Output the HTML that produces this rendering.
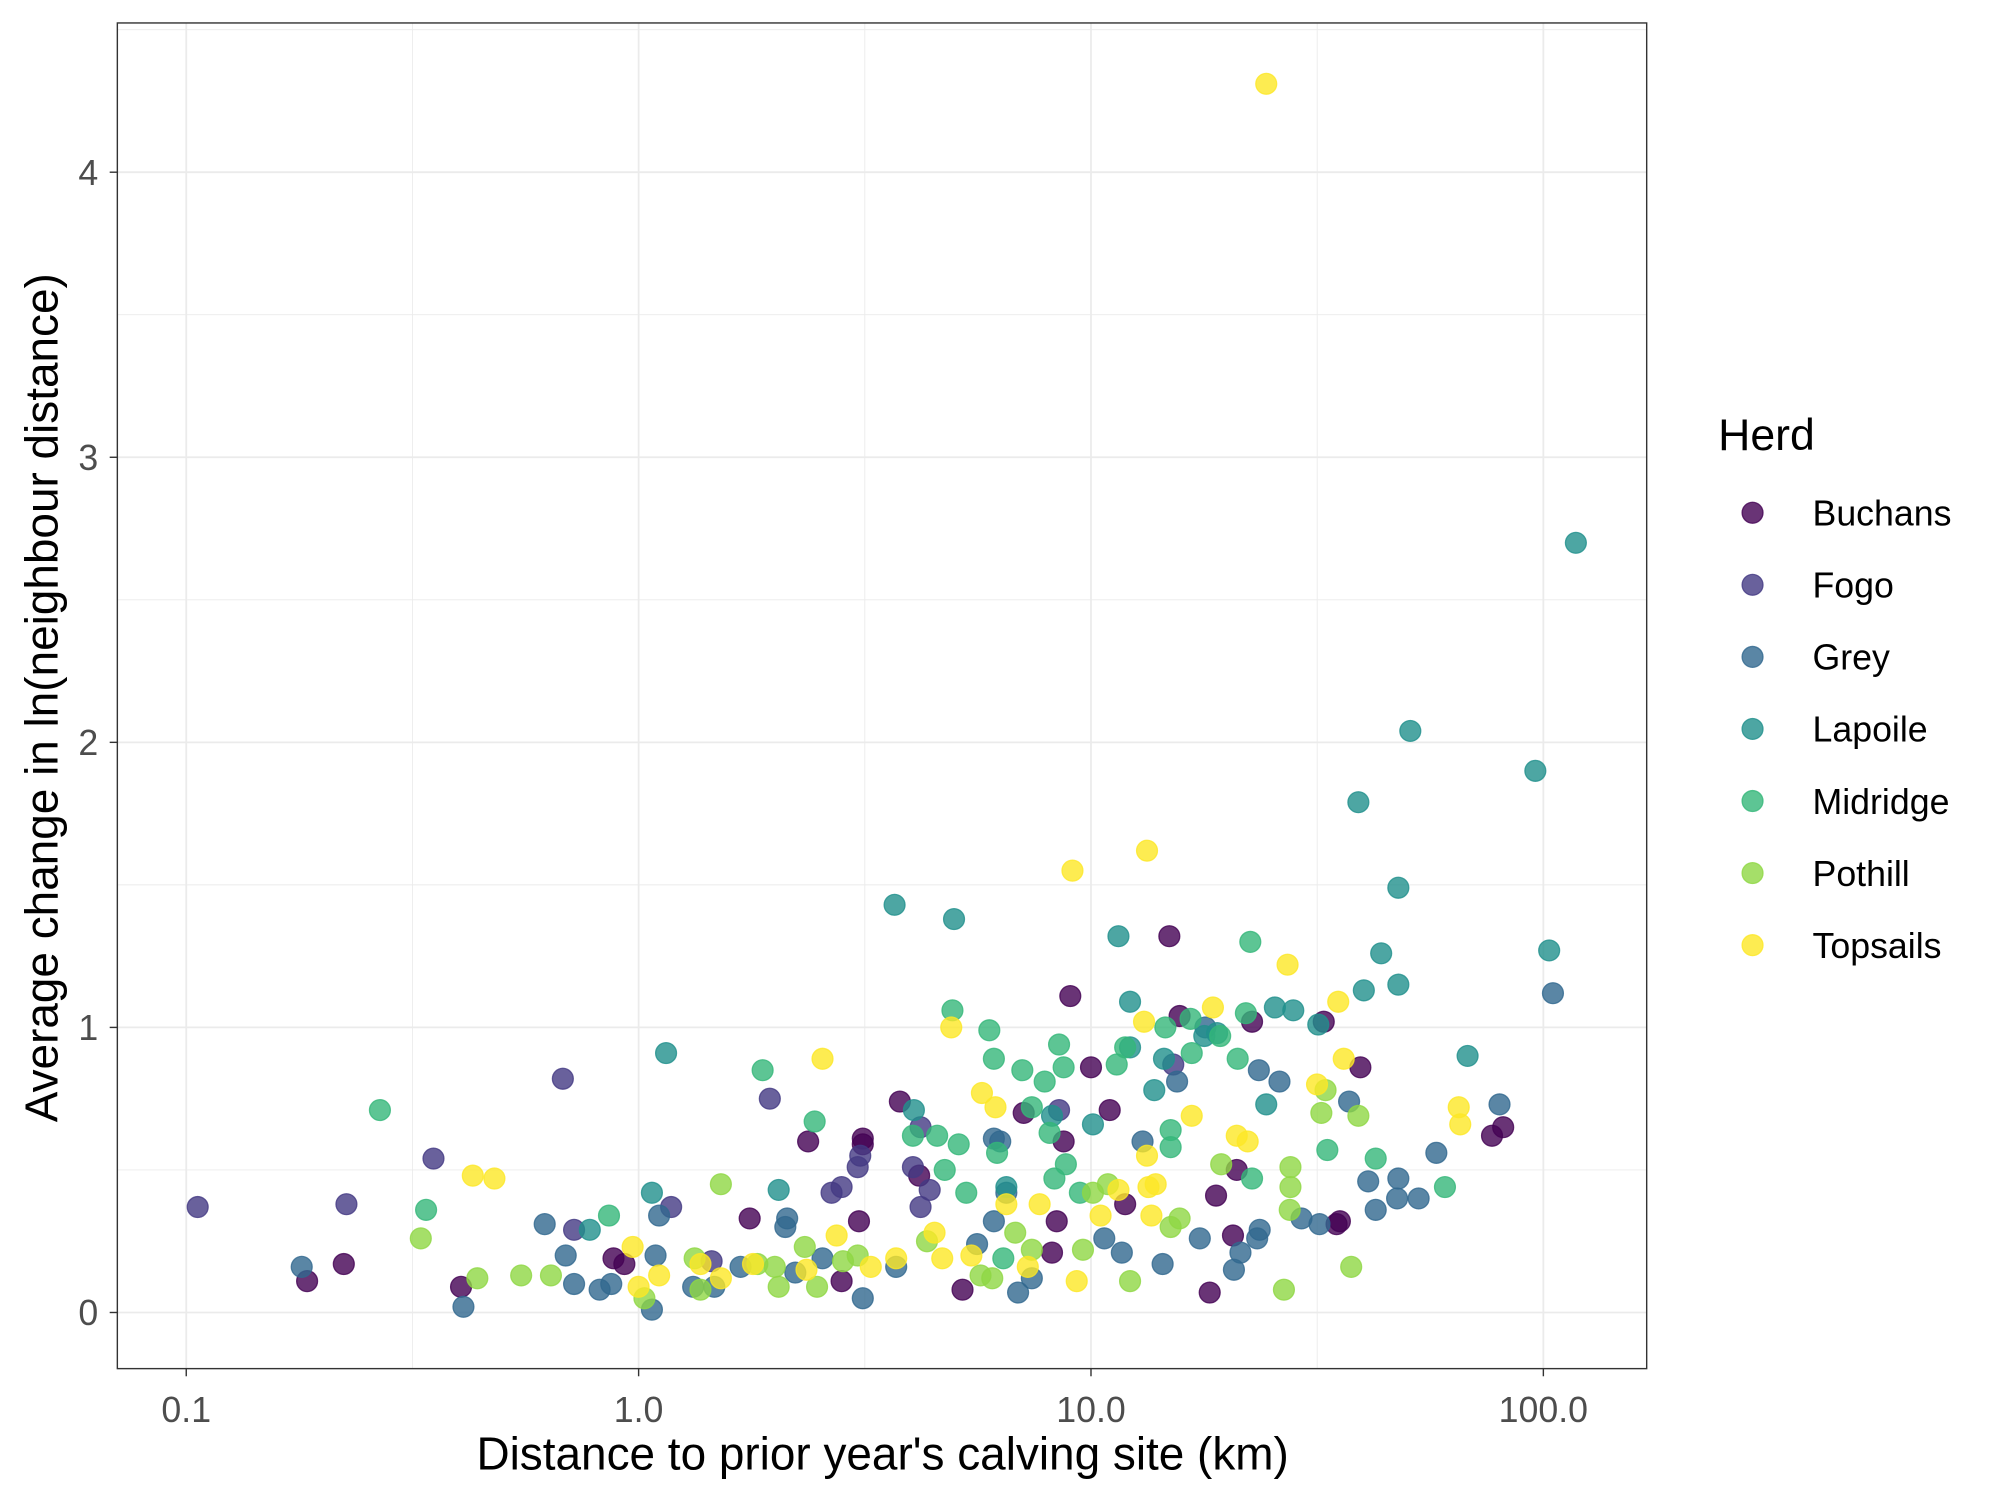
<!DOCTYPE html>
<html><head><meta charset="utf-8"><style>
html,body{margin:0;padding:0;background:#fff;}
svg{display:block;font-family:"Liberation Sans",Arial,sans-serif;}
</style></head><body>
<svg id="chart" width="2000" height="1500" viewBox="0 0 1568 1176" xmlns="http://www.w3.org/2000/svg">
<rect x="0" y="0" width="1568" height="1176" fill="#fff"/>
<g id="grid"></g>
<g id="points"></g>
<rect x="92" y="18" width="1199" height="1055" fill="none" stroke="#333" stroke-width="1.1"/>
<g id="axes"></g>
<text x="692" y="1152" font-size="36" text-anchor="middle" fill="#000">Distance to prior year's calving site (km)</text>
<text transform="translate(45,547) rotate(-90)" font-size="36" text-anchor="middle" fill="#000">Average change in ln(neighbour distance)</text>
<g id="legend">
<text x="1347" y="353" font-size="35" fill="#000">Herd</text>
</g>
</svg>
<script>
const herds = ["Buchans","Fogo","Grey","Lapoile","Midridge","Pothill","Topsails"];
const colors = ["#440154","#443A83","#31688E","#21908C","#35B779","#8FD744","#FDE725"];
const xTicks = [0.1,1,10,100];
const xTickLabels = ["0.1","1.0","10.0","100.0"];
const yTicks = [0,1,2,3,4];
const yTickLabels = ["0","1","2","3","4"];
const buchansX = [0.185,0.223,0.405,0.88,0.93,1.76,2.37,2.81,3.07,3.13,3.13,3.78,4.17,5.2,7.1,8.2,8.4,8.7,9.0,10,11.0,11.9,14.9,15.7,18.3,18.9,20.6,21.0,22.7,32.7,34.9,35.5,39.4,77,81.5];
const buchansY = [0.11,0.17,0.09,0.19,0.17,0.33,0.60,0.11,0.32,0.61,0.59,0.74,0.48,0.08,0.70,0.21,0.32,0.60,1.11,0.86,0.71,0.38,1.32,1.04,0.07,0.41,0.27,0.50,1.02,1.02,0.31,0.32,0.86,0.62,0.65];
const fogoX = [0.106,0.226,0.352,0.68,0.72,1.18,1.45,1.95,2.67,2.81,3.05,3.09,4.04,4.2,4.2,4.4,8.5,15.2];
const fogoY = [0.37,0.38,0.54,0.82,0.29,0.37,0.18,0.75,0.42,0.44,0.51,0.55,0.51,0.65,0.37,0.43,0.71,0.87];
const greyX = [0.18,0.41,0.62,0.69,0.72,0.82,0.87,1.07,1.09,1.11,1.32,1.47,1.68,2.11,2.13,2.22,2.55,3.13,3.71,5.6,6.1,6.1,6.3,6.5,6.9,7.4,10.7,11.7,13.0,14.4,15.5,17.4,17.9,20.7,21.4,23.3,23.6,23.5,26.1,29.2,32.0,37.2,41.0,42.6,47.5,47.8,53,58,80,105];
const greyY = [0.16,0.02,0.31,0.20,0.10,0.08,0.10,0.01,0.20,0.34,0.09,0.09,0.16,0.30,0.33,0.14,0.19,0.05,0.16,0.24,0.32,0.61,0.60,0.42,0.07,0.12,0.26,0.21,0.60,0.17,0.81,0.26,1.00,0.15,0.21,0.26,0.29,0.85,0.81,0.33,0.31,0.74,0.46,0.36,0.40,0.47,0.40,0.56,0.73,1.12];
const lapoileX = [0.78,1.07,1.15,2.04,3.68,4.06,4.98,6.5,8.2,10.1,11.5,12.2,12.2,13.8,14.5,17.8,19.0,24.4,25.5,28.0,31.8,39.0,40.1,43.8,47.8,47.8,50.8,68,96,103,118];
const lapoileY = [0.29,0.42,0.91,0.43,1.43,0.71,1.38,0.44,0.69,0.66,1.32,1.09,0.93,0.78,0.89,0.97,0.98,0.73,1.07,1.06,1.01,1.79,1.13,1.26,1.49,1.15,2.04,0.90,1.90,1.27,2.70];
const midridgeX = [0.268,0.339,0.86,1.88,2.45,4.04,4.57,4.75,4.94,5.1,5.3,5.96,6.1,6.2,6.4,7.05,7.4,7.9,8.1,8.3,8.5,8.7,8.8,9.45,11.4,11.9,14.6,15.0,15.0,16.6,16.7,19.3,21.1,22.0,22.5,22.7,33.3,42.6,60.6];
const midridgeY = [0.71,0.36,0.34,0.85,0.67,0.62,0.62,0.50,1.06,0.59,0.42,0.99,0.89,0.56,0.19,0.85,0.72,0.81,0.63,0.47,0.94,0.86,0.52,0.42,0.87,0.93,1.00,0.64,0.58,1.03,0.91,0.97,0.89,1.05,1.30,0.47,0.57,0.54,0.44];
const pothillX = [0.33,0.44,0.55,0.64,1.03,1.33,1.37,1.52,1.83,2.0,2.04,2.33,2.48,2.83,3.05,4.34,5.7,6.05,6.8,7.4,9.6,10.1,10.9,12.2,15.0,15.7,19.4,26.7,27.5,27.6,27.6,32.3,33.0,37.6,39];
const pothillY = [0.26,0.12,0.13,0.13,0.05,0.19,0.08,0.45,0.17,0.16,0.09,0.23,0.09,0.18,0.20,0.25,0.13,0.12,0.28,0.22,0.22,0.42,0.45,0.11,0.30,0.33,0.52,0.08,0.36,0.44,0.51,0.70,0.78,0.16,0.69];
const topsailsX = [0.43,0.48,0.97,1.0,1.11,1.37,1.52,1.79,2.35,2.55,2.74,3.26,3.71,4.51,4.69,4.91,5.44,5.74,6.15,6.5,7.25,7.7,9.1,9.3,10.5,11.5,13.1,13.3,13.3,13.4,13.6,13.9,16.7,18.6,21.0,22.2,24.4,27.2,31.6,35.2,36.2,65,65.5];
const topsailsY = [0.48,0.47,0.23,0.09,0.13,0.17,0.12,0.17,0.15,0.89,0.27,0.16,0.19,0.28,0.19,1.00,0.20,0.77,0.72,0.38,0.16,0.38,1.55,0.11,0.34,0.43,1.02,1.62,0.55,0.44,0.34,0.45,0.69,1.07,0.62,0.60,4.31,1.22,0.80,1.09,0.89,0.72,0.66];
const seriesX = [buchansX,fogoX,greyX,lapoileX,midridgeX,pothillX,topsailsX];
const seriesY = [buchansY,fogoY,greyY,lapoileY,midridgeY,pothillY,topsailsY];

const NS = "http://www.w3.org/2000/svg";
const PL = 92, PR = 1291, PT = 18, PB = 1073;
const xMinL = -1.1523, xMaxL = 2.2284, yMin = -0.1969, yMax = 4.5235;
function sx(v){ return PL + (Math.log10(v) - xMinL) / (xMaxL - xMinL) * (PR - PL); }
function sy(v){ return PB - (v - yMin) / (yMax - yMin) * (PB - PT); }
function mk(tag, attrs, parent){ const e = document.createElementNS(NS, tag); for (const k in attrs) e.setAttribute(k, attrs[k]); parent.appendChild(e); return e; }

const grid = document.getElementById('grid');
for (let i = 0; i < xTicks.length - 1; i++) {
  const m = Math.sqrt(xTicks[i] * xTicks[i+1]);
  const l = mk('line', {x1: sx(m), x2: sx(m), y1: PT, y2: PB, stroke: '#EBEBEB', 'stroke-width': 0.7}, grid);
  
  
}
for (let i = 0; i < yTicks.length; i++) {
  const m = yTicks[i] + 0.5;
  const l = mk('line', {x1: PL, x2: PR, y1: sy(m), y2: sy(m), stroke: '#EBEBEB', 'stroke-width': 0.7}, grid);
  
  
}
const axes = document.getElementById('axes');
xTicks.forEach((t, i) => {
  const x = sx(t);
  const g = mk('line', {x1: x, x2: x, y1: PT, y2: PB, stroke: '#EBEBEB', 'stroke-width': 1.4}, grid);
  
  
  const tk = mk('line', {x1: x, x2: x, y1: PB, y2: PB + 6, stroke: '#333', 'stroke-width': 1.1}, axes);
  
  
  const tx = mk('text', {x: x, y: PB + 42, 'font-size': 28, 'text-anchor': 'middle', fill: '#4D4D4D'}, axes);
  tx.textContent = xTickLabels[i];
  
  
});
yTicks.forEach((t, i) => {
  const y = sy(t);
  const g = mk('line', {x1: PL, x2: PR, y1: y, y2: y, stroke: '#EBEBEB', 'stroke-width': 1.4}, grid);
  
  
  const tk = mk('line', {x1: PL - 6, x2: PL, y1: y, y2: y, stroke: '#333', 'stroke-width': 1.1}, axes);
  
  
  const tx = mk('text', {x: PL - 15, y: y + 10, 'font-size': 28, 'text-anchor': 'end', fill: '#4D4D4D'}, axes);
  tx.textContent = yTickLabels[i];
  
  
});
const pts = document.getElementById('points');
seriesX.forEach((xs, s) => {
  xs.forEach((xv, j) => {
    const c = mk('circle', {cx: sx(xv), cy: sy(seriesY[s][j]), r: 8.2, fill: colors[s], 'fill-opacity': 0.8, stroke: colors[s], 'stroke-opacity': 0.8, 'stroke-width': 1}, pts);
    
    
  });
});
const leg = document.getElementById('legend');
herds.forEach((h, i) => {
  const y = 402 + i * 56.5;
  const c = mk('circle', {cx: 1374, cy: y, r: 8.2, fill: colors[i], 'fill-opacity': 0.8, stroke: colors[i], 'stroke-opacity': 0.8, 'stroke-width': 1}, leg);
  
  
  const t = mk('text', {x: 1421, y: y + 10, 'font-size': 28, fill: '#000'}, leg);
  t.textContent = h;
  
  
});
</script>
</body></html>
